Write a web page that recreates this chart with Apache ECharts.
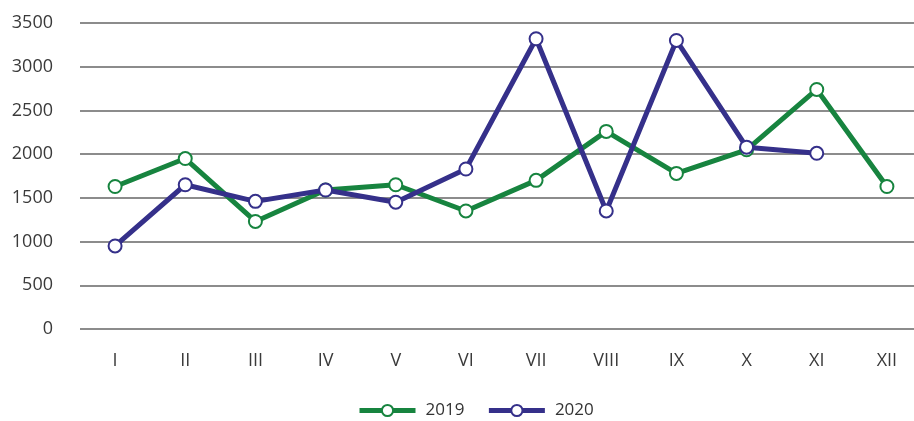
<!DOCTYPE html>
<html><head><meta charset="utf-8">
<script src="https://cdn.jsdelivr.net/npm/echarts@6/dist/echarts.min.js"></script>
<style>html,body{margin:0;padding:0;background:#fff}#c{width:914px;height:421px}</style>
</head><body><div id="c"></div>
<script>
const categories = ['I','II','III','IV','V','VI','VII','VIII','IX','X','XI','XII'];
const values2019 = [1630,1950,1230,1590,1650,1350,1700,2260,1780,2050,2740,1630];
const values2020 = [950,1650,1460,1590,1450,1830,3320,1350,3300,2080,2010,null];
const seriesNames = ['2019','2020'];
const colors = ['#17843f','#35308a'];

const chart = echarts.init(document.getElementById('c'));
function mk(name, data, color){
  return {name, type:'line', data, color,
    symbol:'circle', symbolSize:13,
    lineStyle:{width:5,color},
    itemStyle:{color:'#fff',borderColor:color,borderWidth:2},
    z: name==='2020'?3:2};
}
chart.setOption({
  animation:false,
  textStyle:{fontFamily:'Open Sans'},
  grid:{left:80,width:842,top:23,bottom:92,outerBoundsMode:'none',containLabel:false},
  legend:{bottom:2,left:357,padding:0,itemWidth:56,itemHeight:14,itemGap:22,
    textStyle:{fontSize:17,color:'#333',fontFamily:'Open Sans',padding:[0,0,0,5]},
    data:seriesNames.map((n,i)=>({name:n,lineStyle:{width:5,color:colors[i]}}))},
  xAxis:{type:'category',data:categories,boundaryGap:true,
    axisLine:{show:false},axisTick:{show:false},
    axisLabel:{fontSize:18,color:'#3a3a3a',margin:23}},
  yAxis:{type:'value',min:0,max:3500,interval:500,
    axisLabel:{fontSize:18,color:'#3a3a3a',margin:27,formatter:v=>String(v)},
    splitLine:{lineStyle:{color:'#8c8c8c',width:2}}},
  series:[mk(seriesNames[0],values2019,colors[0]),mk(seriesNames[1],values2020,colors[1])]
});
</script></body></html>
